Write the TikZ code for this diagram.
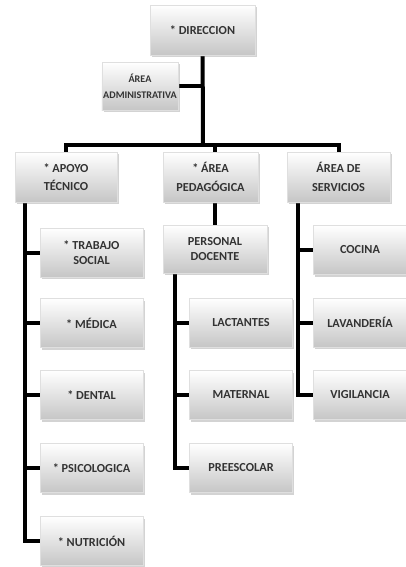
\documentclass[tikz,border=0pt]{standalone}
\usepackage{fontspec}
\setmainfont{Carlito}
\usetikzlibrary{shadows,backgrounds}
\definecolor{boxtext}{HTML}{333333}

\begin{document}
\begin{tikzpicture}[x=0.75pt, y=-0.75pt,
    box/.style={draw=gray!25, line width=0.4pt, top color=white, middle color=gray!6,
        bottom color=gray!45, inner sep=1pt, align=center, text=boxtext,
        font=\fontsize{9.2}{11}\selectfont\bfseries,
        drop shadow={opacity=0.35, shadow xshift=1.2pt, shadow yshift=-1.5pt}},
    leaf/.style={box, minimum width=77.25pt, minimum height=36.75pt},
    head/.style={box, minimum height=37.5pt, font=\fontsize{9.2}{14}\selectfont\bfseries},
    link/.style={line width=3pt, black}]
    \useasboundingbox (0,0) rectangle (406,567);
        %draw top boxes
    \node[box, minimum width=78.75pt, minimum height=37.5pt] (dir) at (202.5,30) {* DIRECCION};
    \node[box, minimum width=55.5pt, minimum height=36pt,
        font=\fontsize{7.6}{12}\selectfont\bfseries] (adm) at (140,86) {ÁREA\\ADMINISTRATIVA};
        %draw second row
    \node[head, minimum width=76.5pt] (apoyo) at (66,177) {* APOYO\\TÉCNICO};
    \node[head, minimum width=71.25pt] (ped) at (210.5,177) {* ÁREA\\PEDAGÓGICA};
    \node[head, minimum width=77.25pt] (serv) at (338.5,177) {ÁREA DE\\SERVICIOS};
        %draw left column
    \node[leaf] (trab) at (91.5,252.5) {* TRABAJO\\SOCIAL};
    \node[leaf] (med) at (91.5,323) {* MÉDICA};
    \node[leaf] (dent) at (91.5,395) {* DENTAL};
    \node[leaf] (psico) at (91.5,468) {* PSICOLOGICA};
    \node[leaf] (nutri) at (91.5,541) {* NUTRICIÓN};
        %draw middle column
    \node[box, minimum width=78pt, minimum height=36pt] (pers) at (215,249) {PERSONAL\\DOCENTE};
    \node[leaf] (lact) at (241,322.5) {LACTANTES};
    \node[leaf] (mat) at (241,395) {MATERNAL};
    \node[leaf] (pre) at (241,468) {PREESCOLAR};
        %draw right column
    \node[leaf, minimum width=70.5pt] (coc) at (360,250) {COCINA};
    \node[leaf, minimum width=70.5pt] (lav) at (360,322.5) {LAVANDERÍA};
    \node[leaf, minimum width=70.5pt] (vig) at (360,395) {VIGILANCIA};

    \begin{scope}[on background layer]
            %draw lines from the top
        \coordinate (hub) at (203,145);
        \draw[link] (dir.center) -- (hub);
        \draw[link] (adm.east) -- (adm.east -| hub);
        \draw[link] (apoyo.north) |- (hub) -| (serv.north);
        \draw[link] (hub -| pers.north) -- (pers.north);
            %draw trunks down to the leaves
        \coordinate (ltop) at (25,177);
        \coordinate (mtop) at (175,249);
        \coordinate (rtop) at (298,177);
        \draw[link] (ltop) |- (nutri.west);
        \foreach \n in {trab, med, dent, psico}
            \draw[link] (ltop |- \n.west) -- (\n.west);
        \draw[link] (mtop) |- (pre.west);
        \foreach \n in {lact, mat}
            \draw[link] (mtop |- \n.west) -- (\n.west);
        \draw[link] (rtop) |- (vig.west);
        \foreach \n in {coc, lav}
            \draw[link] (rtop |- \n.west) -- (\n.west);
    \end{scope}
\end{tikzpicture}
\end{document}
